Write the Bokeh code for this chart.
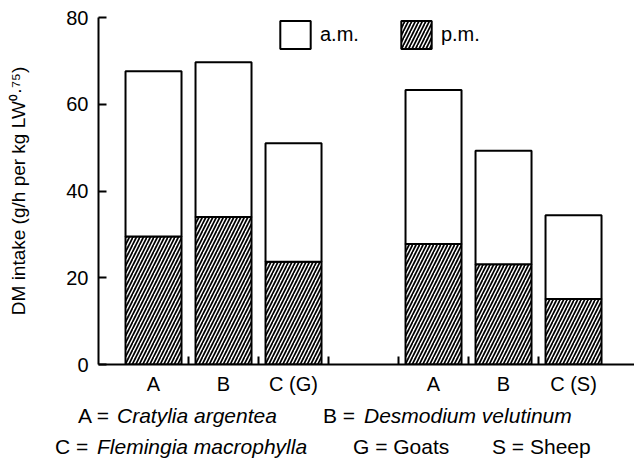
from bokeh.plotting import figure
from bokeh.layouts import column
from bokeh.models import (Range1d, FixedTicker, Legend, LegendItem,
                          ColumnDataSource, Div)
from bokeh.embed import file_html
from bokeh.resources import INLINE

# ---- data ----
categories = ["A", "B", "C (G)", "A", "B", "C (S)"]
group = ["Goats", "Goats", "Goats", "Sheep", "Sheep", "Sheep"]
pm = [29.5, 34.0, 23.7, 27.8, 23.1, 15.1]
am = [38.1, 35.7, 27.3, 35.5, 26.2, 19.3]
y_ticks = [0, 20, 40, 60, 80]
legend_labels = ["a.m.", "p.m."]

# key notes below the chart: (text, italic?, left px, line index)
note_text = ["A =", "Cratylia argentea", "B =", "Desmodium velutinum",
             "C =", "Flemingia macrophylla", "G = Goats", "S = Sheep"]
note_italic = [False, True, False, True, False, True, False, False]
note_left = [78, 117, 323, 364, 55, 97, 353, 492]
note_line = [0, 0, 0, 0, 1, 1, 1, 1]

# positions: one empty slot between the two animal groups
pos = []
slot = 1
prev = None
for g in group:
    if prev is not None and g != prev:
        slot += 1
    pos.append(slot)
    slot += 1
    prev = g
between = [k + 0.5 for k in range(pos[0], pos[-1])]

FONT = "Liberation Sans"

p = figure(width=634, height=400,
           x_range=Range1d(0.214, 7.871), y_range=Range1d(0, 80),
           output_backend="svg", toolbar_location=None,
           min_border_left=98, min_border_right=0,
           min_border_top=17, min_border_bottom=36)
p.outline_line_color = None
p.xgrid.visible = False
p.ygrid.visible = False
p.background_fill_color = "white"
p.border_fill_color = "white"

src = ColumnDataSource(dict(x=pos, pm=pm, am=am))
rs = p.vbar_stack(["pm", "am"], x="x", width=0.8, source=src,
                  fill_color="white", line_color="black", line_width=2,
                  hatch_pattern=["/", " "], hatch_color="black",
                  hatch_scale=7, hatch_weight=1.7)
r_pm, r_am = rs

# x axis
xa = p.xaxis[0]
xa.ticker = FixedTicker(ticks=pos, minor_ticks=between)
xa.major_label_overrides = {x: c for x, c in zip(pos, categories)}
xa.major_tick_line_color = None
xa.minor_tick_in = 8
xa.minor_tick_out = 0
xa.minor_tick_line_width = 2
xa.axis_line_width = 2
xa.major_label_text_font = FONT
xa.major_label_text_font_size = "20px"
xa.major_label_text_color = "black"
xa.major_label_standoff = 2

# y axis
ya = p.yaxis[0]
ya.ticker = FixedTicker(ticks=y_ticks)
ya.major_tick_in = 8
ya.major_tick_out = 0
ya.major_tick_line_width = 2
ya.axis_line_width = 2
ya.minor_tick_line_color = None
ya.major_label_text_font = FONT
ya.major_label_text_font_size = "20px"
ya.major_label_text_color = "black"
ya.major_label_standoff = 10
ya.axis_label = "DM intake (g/h per kg LW\u2070\u00b7\u2077\u2075)"
ya.axis_label_text_font = FONT
ya.axis_label_text_font_size = "19px"
ya.axis_label_text_font_style = "normal"
ya.axis_label_text_color = "black"
ya.axis_label_standoff = 34

legend = Legend(items=[LegendItem(label=legend_labels[0], renderers=[r_am]),
                       LegendItem(label=legend_labels[1], renderers=[r_pm])],
                location=(178, 312), orientation="horizontal",
                glyph_width=38, glyph_height=35, label_standoff=6,
                spacing=38, padding=0, margin=0,
                border_line_color=None, background_fill_alpha=0,
                label_text_font=FONT, label_text_font_size="20px",
                label_text_color="black")
p.add_layout(legend, "center")

# ---- notes as HTML text below the chart ----
line_tops = [5, 36]
spans = []
for txt, it, left, ln in zip(note_text, note_italic, note_left, note_line):
    style = ("position:absolute;white-space:nowrap;left:%dpx;top:%dpx;"
             "font-style:%s;" % (left, line_tops[ln], "italic" if it else "normal"))
    spans.append('<span style="%s">%s</span>' % (style, txt))
html = ('<div style="position:relative;width:634px;height:63px;'
        'font-family:\'Liberation Sans\';font-size:21px;line-height:21px;'
        'color:black;background:white;">' + "".join(spans) + '</div>')
notes = Div(text=html, width=634, height=63, margin=0)

layout = column(p, notes, spacing=0)
open("out.html", "w").write(file_html(layout, INLINE))
